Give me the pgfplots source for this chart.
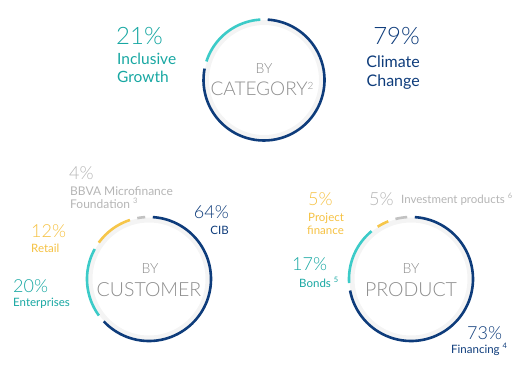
\documentclass[border=0pt]{standalone}
\usepackage{pgfplots}
\pgfplotsset{compat=1.18}
\usepackage{fontspec}
\setmainfont{Lato}
\newfontfamily\light{Lato Light}
\definecolor{navy}{HTML}{0E3C7B}
\definecolor{tealring}{HTML}{3CCBC8}
\definecolor{tealtxt}{HTML}{17A7A2}
\definecolor{yel}{HTML}{F6C64A}
\definecolor{yeltxt}{HTML}{F5C142}
\definecolor{greyring}{HTML}{C2C2C2}
\definecolor{greytxt}{HTML}{B5B5B5}
\definecolor{ctr}{HTML}{8C8C8C}
\newcommand{\fs}[1]{\fontsize{#1bp}{#1bp}\selectfont}
\newcommand{\supr}[1]{{\fs{7.5}\raisebox{4.5bp}{#1}}}
% segment: cx cy r from% to% colour
\newcommand{\seg}[6]{\addplot[#6, line width=2.6bp, domain={(#4)*3.6+3.5}:{(#5)*3.6-3.5}, samples=70] ({#1+#3*sin(x)},{#2-#3*cos(x)});}
\newcommand{\shadow}[3]{\addplot[gray!9, line width=5bp, domain=0:360, samples=120] ({#1+(#3-3)*sin(x)},{#2-(#3-3)*cos(x)});}
\tikzset{every node/.append style={inner sep=0pt}}
\begin{document}
\begin{tikzpicture}
\begin{axis}[hide axis, x=1bp, y=1bp, y dir=reverse, xmin=0, xmax=530, ymin=0, ymax=372, clip=false]
\path (axis cs:0,0) (axis cs:530,372);
% ---- By category: 79 / 21
\shadow{264}{80}{60.5}
\seg{264}{80}{60.5}{0}{79}{navy}
\seg{264}{80}{60.5}{79}{100}{tealring}
% ---- By customer: 64 / 20 / 12 / 4
\shadow{149}{279}{62}
\seg{149}{279}{62}{0}{64}{navy}
\seg{149}{279}{62}{64}{84}{tealring}
\seg{149}{279}{62}{84}{96}{yel}
\seg{149}{279}{62}{96}{100}{greyring}
% ---- By product: 73 / 17 / 5 / 5
\shadow{411}{279}{62}
\seg{411}{279}{62}{0}{73}{navy}
\seg{411}{279}{62}{73}{90}{tealring}
\seg{411}{279}{62}{90}{95}{yel}
\seg{411}{279}{62}{95}{100}{greyring}

% ---- labels, category
\node[anchor=base west, text=tealtxt, font=\light\fs{24}] at (axis cs:116,44) {21\%};
\node[anchor=base west, text=tealtxt, font=\fs{15.5}] at (axis cs:117,64) {Inclusive};
\node[anchor=base west, text=tealtxt, font=\fs{15.5}] at (axis cs:117,82) {Growth};
\node[anchor=base east, text=navy, font=\light\fs{24}] at (axis cs:420,44) {79\%};
\node[anchor=base east, text=navy, font=\fs{16}] at (axis cs:420,67) {Climate};
\node[anchor=base east, text=navy, font=\fs{16}] at (axis cs:420,86) {Change};
\node[anchor=base, text=ctr, font=\light\fs{14}] at (axis cs:264,73) {BY};
\node[anchor=base, text=ctr, font=\light\fs{19}] at (axis cs:262,95) {CATEGORY{\fs{10}\raisebox{6bp}{2}}};

% ---- labels, customer
\node[anchor=base west, text=greytxt, font=\light\fs{18}] at (axis cs:69,179) {4\%};
\node[anchor=base west, text=greytxt, font=\fs{12}] at (axis cs:70,195) {BBVA Microfinance};
\node[anchor=base west, text=greytxt, font=\fs{12}] at (axis cs:70,208) {Foundation \supr{3}};
\node[anchor=base east, text=navy, font=\light\fs{18}] at (axis cs:229,218) {64\%};
\node[anchor=base east, text=navy, font=\fs{11.5}] at (axis cs:229,234) {CIB};
\node[anchor=base west, text=yeltxt, font=\light\fs{18}] at (axis cs:31,237) {12\%};
\node[anchor=base west, text=yeltxt, font=\fs{11.5}] at (axis cs:31,252) {Retail};
\node[anchor=base west, text=tealtxt, font=\light\fs{18}] at (axis cs:13,292) {20\%};
\node[anchor=base west, text=tealtxt, font=\fs{11.5}] at (axis cs:13,306) {Enterprises};
\node[anchor=base, text=ctr, font=\light\fs{14}] at (axis cs:150,273) {BY};
\node[anchor=base, text=ctr, font=\light\fs{19.5}] at (axis cs:149,296) {CUSTOMER};

% ---- labels, product
\node[anchor=base west, text=yeltxt, font=\light\fs{18}] at (axis cs:308,205) {5\%};
\node[anchor=base west, text=yeltxt, font=\fs{11.5}] at (axis cs:308,221) {Project};
\node[anchor=base west, text=yeltxt, font=\fs{11.5}] at (axis cs:307,234) {finance};
\node[anchor=base west, text=greytxt, font=\light\fs{18}] at (axis cs:369,205) {5\%};
\node[anchor=base west, text=greytxt, font=\fs{11.5}] at (axis cs:401,203) {Investment products \supr{6}};
\node[anchor=base west, text=tealtxt, font=\light\fs{18}] at (axis cs:292,270) {17\%};
\node[anchor=base west, text=tealtxt, font=\fs{11.5}] at (axis cs:299,287) {Bonds \supr{5}};
\node[anchor=base west, text=navy, font=\light\fs{18}] at (axis cs:467,339) {73\%};
\node[anchor=base west, text=navy, font=\fs{11.5}] at (axis cs:451,353) {Financing \supr{4}};
\node[anchor=base, text=ctr, font=\light\fs{14}] at (axis cs:411,273) {BY};
\node[anchor=base, text=ctr, font=\light\fs{19.5}] at (axis cs:411,296) {PRODUCT};
\end{axis}
\end{tikzpicture}
\end{document}
